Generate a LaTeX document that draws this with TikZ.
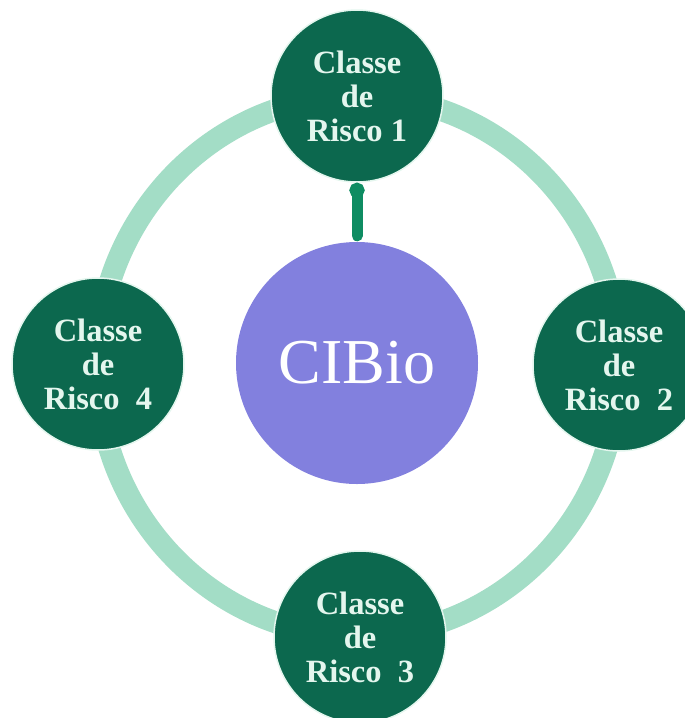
\documentclass[tikz,border=0pt]{standalone}
\usepackage{fontspec}
\setmainfont{Liberation Serif}
\usetikzlibrary{arrows.meta}

\definecolor{ringmint}{RGB}{163,221,198}
\definecolor{riskgreen}{RGB}{12,104,78}
\definecolor{risktext}{RGB}{228,246,238}
\definecolor{hubviolet}{RGB}{130,128,222}
\definecolor{arrowgreen}{RGB}{14,140,98}

\begin{document}
\begin{tikzpicture}[x=1pt,y=-1pt,
  riskclass/.style={circle, fill=riskgreen, draw=risktext, line width=1.5pt,
    minimum size=172pt, inner sep=0pt, align=center, text=risktext,
    font=\fontsize{32.5}{34}\selectfont\bfseries},
  hub/.style={circle, fill=hubviolet, minimum size=242pt, inner sep=0pt,
    text=white, font=\fontsize{64}{70}\selectfont},
  ringband/.style={draw=ringmint, line width=22pt},
  link/.style={draw=arrowgreen, line width=11pt, line cap=round,
    shorten <=6pt, -{Circle[length=15pt,width=15pt]}}
]
  % page frame
  \useasboundingbox (0,0) rectangle (685,718);
  \clip (0,0) rectangle (685,718);

  % ring joining the four risk classes
  \draw[ringband] (358,366) ellipse [x radius=261, y radius=270];

  % central committee
  \node[hub] (cibio) at (357,363) {CIBio};

  % risk classes
  \node[riskclass] (r1) at (357,96)  {Classe\\de\\Risco 1};
  \node[riskclass] (r2) at (619,365) {Classe\\de\\Risco~~2};
  \node[riskclass] (r3) at (360,637) {Classe\\de\\Risco~~3};
  \node[riskclass] (r4) at (98,364)  {Classe\\de\\Risco~~4};

  % link from the centre to class 1
  \draw[link] (cibio) -- (r1);
\end{tikzpicture}
\end{document}
